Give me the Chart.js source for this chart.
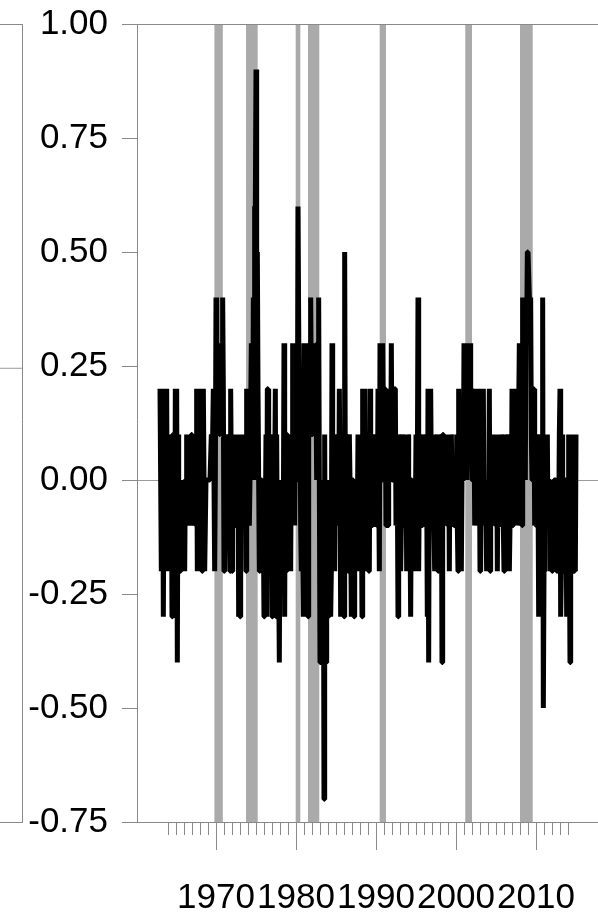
<!DOCTYPE html>
<html>
<head>
<meta charset="utf-8">
<title>Monthly change in the unemployment rate</title>
<script src="https://cdn.jsdelivr.net/npm/chart.js@4.4.1/dist/chart.umd.min.js"></script>
<style>
  html, body { margin: 0; padding: 0; background: #fff; overflow: hidden; }
  #wrap { position: relative; width: 598px; height: 913px; overflow: hidden; }
  canvas { position: absolute; top: 0; }
  #leftPanel { left: -578px; }
  #mainChart { left: 0; }
</style>
</head>
<body>
<div id="wrap">
  <canvas id="leftPanel" width="601" height="913"></canvas>
  <canvas id="mainChart" width="600" height="913"></canvas>
</div>
<script>
// monthly change of the unemployment rate, percentage points, Jan 1963 .. Jan 2015
const firstYear = 1963
const unrateChange = [
  0.2, 0.2, -0.2, 0.0, 0.2, -0.3, 0.0, -0.2, 0.1, 0.0, 0.2, -0.2,     // 1963
  0.1, -0.2, 0.0, -0.1, -0.2, 0.1, -0.3, 0.1, 0.1, 0.0, -0.3, 0.2,    // 1964
  -0.1, 0.2, -0.4, 0.1, -0.2, 0.0, -0.2, 0.0, -0.1, -0.1, -0.1, -0.1, // 1965
  0.0, -0.2, 0.0, 0.0, 0.1, -0.1, 0.0, 0.0, -0.1, 0.0, -0.1, 0.1,     // 1966
  0.1, -0.1, 0.0, 0.0, 0.0, 0.1, -0.1, 0.2, -0.2, 0.2, -0.1, -0.1,    // 1967
  -0.1, 0.1, -0.1, -0.2, 0.0, 0.2, 0.0, -0.2, -0.1, 0.0, 0.0, 0.0,    // 1968
  0.0, 0.0, 0.0, 0.0, 0.0, 0.1, 0.0, 0.0, 0.2, 0.0, -0.2, 0.0,        // 1969
  0.4, 0.3, 0.2, 0.2, 0.2, 0.1, 0.1, 0.1, 0.3, 0.1, 0.4, 0.2,         // 1970
  -0.2, 0.0, 0.1, -0.1, 0.0, 0.0, 0.1, 0.1, -0.1, -0.2, 0.2, 0.0,     // 1971
  -0.2, -0.1, 0.1, -0.1, 0.0, 0.0, -0.1, 0.0, -0.1, 0.1, -0.3, -0.1,  // 1972
  -0.3, 0.1, -0.1, 0.1, -0.1, 0.0, -0.1, 0.0, 0.0, -0.2, 0.2, 0.1,    // 1973
  0.2, 0.1, -0.1, 0.0, 0.0, 0.3, 0.1, 0.0, 0.4, 0.1, 0.6, 0.6,        // 1974
  0.9, 0.0, 0.5, 0.2, 0.2, -0.2, -0.2, -0.2, 0.0, 0.0, -0.1, -0.1,    // 1975
  -0.3, -0.2, -0.1, 0.1, -0.3, 0.2, 0.2, 0.0, -0.2, 0.1, 0.1, 0.0,    // 1976
  -0.3, 0.1, -0.2, -0.2, -0.2, 0.2, -0.3, 0.1, -0.2, 0.0, 0.0, -0.4,  // 1977
  0.0, -0.1, 0.0, -0.2, -0.1, -0.1, 0.3, -0.3, 0.1, -0.2, 0.1, 0.1,   // 1978
  -0.1, 0.0, -0.1, 0.0, -0.2, 0.1, 0.0, 0.3, -0.1, 0.1, -0.1, 0.1,    // 1979
  0.3, 0.0, 0.0, 0.6, 0.6, 0.1, 0.2, -0.1, -0.2, 0.0, 0.0, -0.3,      // 1980
  0.3, -0.1, 0.0, -0.2, 0.3, 0.0, -0.3, 0.2, 0.2, 0.3, 0.4, 0.2,      // 1981
  0.1, 0.3, 0.1, 0.3, 0.1, 0.2, 0.2, 0.0, 0.3, 0.3, 0.4, 0.0,         // 1982
  -0.4, 0.0, -0.1, -0.1, -0.1, 0.0, -0.7, 0.1, -0.3, -0.4, -0.3, -0.2, // 1983
  -0.3, -0.2, 0.0, -0.1, -0.3, -0.2, 0.3, 0.0, -0.2, 0.1, -0.2, 0.1,  // 1984
  0.0, -0.1, 0.0, 0.1, -0.1, 0.2, 0.0, -0.3, 0.0, 0.0, -0.1, 0.0,     // 1985
  -0.3, 0.5, 0.0, -0.1, 0.1, 0.0, -0.2, -0.1, 0.1, 0.0, -0.1, -0.3,   // 1986
  0.0, 0.0, 0.0, -0.3, 0.0, -0.1, -0.1, -0.1, -0.1, 0.1, -0.2, -0.1,  // 1987
  0.0, 0.0, 0.0, -0.3, 0.2, -0.2, 0.0, 0.2, -0.2, 0.0, -0.1, 0.0,     // 1988
  0.1, -0.2, -0.2, 0.2, 0.0, 0.1, -0.1, 0.0, 0.1, 0.0, 0.1, 0.0,      // 1989
  0.0, -0.1, -0.1, 0.2, 0.0, -0.2, 0.3, 0.2, 0.2, 0.0, 0.3, 0.1,      // 1990
  0.1, 0.2, 0.2, -0.1, 0.2, 0.0, -0.1, 0.1, 0.0, 0.1, 0.0, 0.3,       // 1991
  0.0, 0.1, 0.0, 0.0, 0.2, 0.2, -0.1, -0.1, 0.0, -0.3, 0.1, 0.0,      // 1992
  -0.1, -0.2, -0.1, 0.1, 0.0, -0.1, -0.1, -0.1, -0.1, 0.1, -0.2, -0.1, // 1993
  0.1, 0.0, -0.1, -0.1, -0.3, 0.0, 0.0, -0.1, -0.1, -0.1, -0.2, -0.1, // 1994
  0.1, -0.2, 0.0, 0.4, -0.2, 0.0, 0.1, 0.0, -0.1, -0.1, 0.1, 0.0,     // 1995
  0.0, -0.1, 0.0, 0.1, 0.0, -0.3, 0.2, -0.4, 0.1, 0.0, 0.2, 0.0,      // 1996
  -0.1, -0.1, 0.0, -0.1, -0.2, 0.1, -0.1, -0.1, 0.1, -0.2, -0.1, 0.1, // 1997
  -0.1, 0.0, 0.1, -0.4, 0.1, 0.1, 0.0, 0.0, 0.1, -0.1, -0.1, 0.0,     // 1998
  -0.1, 0.1, -0.2, 0.1, -0.1, 0.1, 0.0, -0.1, 0.0, -0.1, 0.0, -0.1,   // 1999
  0.0, 0.1, -0.1, -0.2, 0.2, 0.0, 0.0, 0.1, -0.2, 0.0, 0.0, 0.0,      // 2000
  0.3, 0.0, 0.1, 0.1, 0.0, 0.1, 0.1, 0.3, 0.1, 0.3, 0.2, 0.2,         // 2001
  0.0, 0.0, 0.0, 0.2, -0.1, 0.0, 0.0, -0.1, 0.0, 0.0, 0.2, 0.1,       // 2002
  -0.2, 0.1, 0.0, 0.1, 0.1, 0.2, -0.1, -0.1, 0.0, -0.1, -0.2, -0.1,   // 2003
  0.0, -0.1, 0.2, -0.2, 0.0, 0.0, -0.1, -0.1, 0.0, 0.1, -0.1, 0.0,    // 2004
  -0.1, 0.1, -0.2, 0.0, -0.1, -0.1, 0.0, -0.1, 0.1, 0.0, 0.0, -0.1,   // 2005
  -0.2, 0.1, -0.1, 0.0, -0.1, 0.0, 0.1, 0.0, -0.2, -0.1, 0.1, -0.1,   // 2006
  0.2, -0.1, -0.1, 0.1, -0.1, 0.2, 0.1, -0.1, 0.1, 0.0, 0.0, 0.3,     // 2007
  0.0, -0.1, 0.2, -0.1, 0.4, 0.2, 0.2, 0.3, 0.0, 0.4, 0.3, 0.5,       // 2008
  0.5, 0.5, 0.4, 0.3, 0.4, 0.1, 0.0, 0.1, 0.2, 0.2, -0.1, 0.0,        // 2009
  -0.1, 0.0, 0.1, 0.0, -0.3, -0.2, 0.0, 0.1, 0.0, -0.1, 0.4, -0.5,    // 2010
  -0.2, -0.1, 0.0, 0.1, -0.1, 0.1, -0.1, 0.0, 0.0, -0.2, -0.2, -0.1,  // 2011
  -0.2, 0.0, -0.1, 0.0, 0.0, 0.0, 0.0, -0.2, -0.2, 0.0, -0.1, 0.1,    // 2012
  0.2, -0.3, -0.2, 0.1, -0.1, 0.0, -0.2, -0.1, 0.0, 0.0, -0.3, -0.2,  // 2013
  -0.1, 0.1, -0.1, -0.4, 0.1, -0.2, 0.1, -0.1, -0.2, -0.2, 0.1, -0.2, // 2014
  0.1                                                                 // 2015
]
const months = unrateChange.map((v, i) => firstYear + i / 12)

// NBER recessions (shaded)
const recessionStart = [1969.8, 1973.75, 1979.96, 1981.5, 1990.46, 2001.16, 2008.0]
const recessionEnd   = [1970.85, 1975.21, 1980.54, 1982.91, 1991.25, 2002.0, 2009.59]

const yTicks = [-0.75, -0.5, -0.25, 0, 0.25, 0.5, 0.75, 1.0]
const decadeTicks = [1970, 1980, 1990, 2000, 2010]
const yearTicks = []
for (let yr = 1964; yr <= 2014; yr++) yearTicks.push(yr)

const leftMeanLevel = 0.245

const xMin = 1960.125
const xMax = 2018
const axisGrey = '#8a8a8a'
const zeroGrey = '#9a9a9a'
const shadeGrey = '#aaaaaa'

Chart.defaults.font.family = "'Liberation Sans', Arial, Helvetica, sans-serif"
Chart.defaults.color = '#000'

const recessionShading = {
  id: 'recessionShading',
  beforeDatasetsDraw(chart) {
    const { ctx, chartArea, scales } = chart
    const x = scales.x
    ctx.save()
    ctx.fillStyle = shadeGrey
    recessionStart.forEach((s, i) => {
      const x0 = x.getPixelForValue(s)
      const x1 = x.getPixelForValue(recessionEnd[i])
      ctx.fillRect(x0, chartArea.top + 1, x1 - x0, chartArea.bottom - chartArea.top - 1)
    })
    ctx.restore()
  }
}

function topBorder() {
  return {
    type: 'linear', position: 'top', min: xMin, max: xMax,
    ticks: { display: false },
    grid: { display: false },
    border: { display: true, color: axisGrey, width: 1 },
    afterFit: s => { s.height = 24; s.paddingLeft = 0; s.paddingRight = 0 }
  }
}

let mainChart = new Chart(document.getElementById('mainChart'), {
  type: 'line',
  data: {
    datasets: [{
      data: months.map((m, i) => ({ x: m, y: unrateChange[i] })),
      borderColor: '#000',
      borderWidth: 5,
      borderJoinStyle: 'bevel',
      borderCapStyle: 'butt',
      pointRadius: 0,
      tension: 0,
      fill: false,
      xAxisID: 'x',
      yAxisID: 'y'
    }]
  },
  options: {
    responsive: false,
    animation: false,
    events: [],
    layout: { padding: 0 },
    plugins: { legend: { display: false }, tooltip: { enabled: false } },
    scales: {
      x: {
        type: 'linear', position: 'bottom', weight: 0, min: xMin, max: xMax,
        afterBuildTicks: s => { s.ticks = yearTicks.map(v => ({ value: v })) },
        afterFit: s => { s.height = 13; s.paddingLeft = 0; s.paddingRight = 0 },
        ticks: { display: false },
        grid: { drawOnChartArea: false, tickLength: 13, tickColor: axisGrey },
        border: { display: true, color: axisGrey, width: 1 }
      },
      xMajor: {
        type: 'linear', position: 'bottom', weight: 1, min: xMin, max: xMax,
        afterBuildTicks: s => { s.ticks = decadeTicks.map(v => ({ value: v })) },
        afterFit: s => { s.height = 78; s.paddingLeft = 0; s.paddingRight = 0 },
        ticks: {
          autoSkip: false, maxRotation: 0, minRotation: 0, padding: 27,
          color: '#000', font: { size: 35 },
          callback: v => String(v)
        },
        grid: { drawOnChartArea: false, tickLength: 15, tickColor: axisGrey },
        border: { display: false }
      },
      xTop: topBorder(),
      y: {
        type: 'linear', position: 'left', min: -0.75, max: 1,
        afterBuildTicks: s => { s.ticks = yTicks.map(v => ({ value: v })) },
        afterFit: s => { s.width = 137; s.paddingTop = 0; s.paddingBottom = 0 },
        ticks: {
          autoSkip: false, padding: 14, color: '#000', font: { size: 35 },
          callback: v => v.toFixed(2)
        },
        grid: {
          drawOnChartArea: true,
          color: c => (c.tick && c.tick.value === 0 ? zeroGrey : 'rgba(0,0,0,0)'),
          tickLength: 15, tickColor: axisGrey
        },
        border: { display: true, color: axisGrey, width: 1 }
      }
    }
  },
  plugins: [recessionShading]
})

// neighbouring panel, only its right edge is inside the picture
let leftChart = new Chart(document.getElementById('leftPanel'), {
  type: 'line',
  data: {
    datasets: [{
      data: [{ x: xMin, y: leftMeanLevel }, { x: xMax, y: leftMeanLevel }],
      borderColor: zeroGrey,
      borderWidth: 1,
      pointRadius: 0,
      fill: false,
      xAxisID: 'x',
      yAxisID: 'y'
    }]
  },
  options: {
    responsive: false,
    animation: false,
    events: [],
    layout: { padding: 0 },
    plugins: { legend: { display: false }, tooltip: { enabled: false } },
    scales: {
      x: {
        type: 'linear', position: 'bottom', min: xMin, max: xMax,
        ticks: { display: false },
        grid: { display: false },
        border: { display: true, color: axisGrey, width: 1 },
        afterFit: s => { s.height = 91; s.paddingLeft = 0; s.paddingRight = 0 }
      },
      xTop: topBorder(),
      y: {
        type: 'linear', position: 'left', min: -0.75, max: 1,
        ticks: { display: false },
        grid: { display: false },
        border: { display: false },
        afterFit: s => { s.width = 137; s.paddingTop = 0; s.paddingBottom = 0 }
      },
      yRight: {
        type: 'linear', position: 'right', min: -0.75, max: 1,
        ticks: { display: false },
        grid: { display: false },
        border: { display: true, color: axisGrey, width: 1 },
        afterFit: s => { s.width = 1; s.paddingTop = 0; s.paddingBottom = 0 }
      }
    }
  }
})
</script>
</body>
</html>
